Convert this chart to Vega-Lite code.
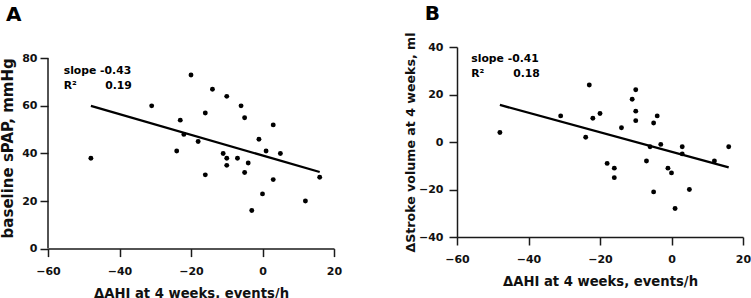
{
  "$schema": "https://vega.github.io/schema/vega-lite/v6.json",
  "padding": {"left": 0, "top": 4, "right": 0, "bottom": 0},
  "spacing": 62,
  "config": {
    "font": "DejaVu Sans",
    "view": {"stroke": null},
    "axis": {
      "grid": false,
      "domainColor": "#1a1a1a",
      "domainWidth": 1.5,
      "tickColor": "#1a1a1a",
      "tickWidth": 1.5,
      "tickSize": 8,
      "labelFont": "DejaVu Sans",
      "labelFontSize": 11,
      "labelFontWeight": "bold",
      "labelColor": "#111",
      "labelFlush": false,
      "labelOverlap": false,
      "titleFont": "DejaVu Sans",
      "titleFontWeight": "bold",
      "titleColor": "#111"
    },
    "axisX": {"labelPadding": 8.5, "titlePadding": 11, "titleFontSize": 13.2},
    "title": {"font": "DejaVu Sans", "fontSize": 20, "fontWeight": "bold", "color": "#000", "anchor": "start", "frame": "group"}
  },
  "datasets": {
    "pa": [
      {"x": -48, "y": 38}, {"x": -31, "y": 60}, {"x": -23, "y": 54}, {"x": -22, "y": 48},
      {"x": -24, "y": 41}, {"x": -20, "y": 73}, {"x": -18, "y": 45}, {"x": -16, "y": 57},
      {"x": -16, "y": 31}, {"x": -14, "y": 67}, {"x": -11, "y": 40}, {"x": -10, "y": 64},
      {"x": -10, "y": 38}, {"x": -10, "y": 35}, {"x": -7, "y": 38}, {"x": -6, "y": 60},
      {"x": -5, "y": 55}, {"x": -5, "y": 32}, {"x": -4, "y": 36}, {"x": -3, "y": 16},
      {"x": -1, "y": 46}, {"x": 0, "y": 23}, {"x": 1, "y": 41}, {"x": 3, "y": 52},
      {"x": 3, "y": 29}, {"x": 5, "y": 40}, {"x": 12, "y": 20}, {"x": 16, "y": 30}
    ],
    "pb": [
      {"x": -48, "y": 4}, {"x": -31, "y": 11}, {"x": -23, "y": 24}, {"x": -24, "y": 2},
      {"x": -22, "y": 10}, {"x": -20, "y": 12}, {"x": -18, "y": -9}, {"x": -16, "y": -11},
      {"x": -16, "y": -15}, {"x": -14, "y": 6}, {"x": -11, "y": 18}, {"x": -10, "y": 22},
      {"x": -10, "y": 13}, {"x": -10, "y": 9}, {"x": -7, "y": -8}, {"x": -6, "y": -2},
      {"x": -5, "y": 8}, {"x": -5, "y": -21}, {"x": -4, "y": 11}, {"x": -3, "y": -1},
      {"x": -1, "y": -11}, {"x": 0, "y": -13}, {"x": 1, "y": -28}, {"x": 3, "y": -2},
      {"x": 3, "y": -5}, {"x": 5, "y": -20}, {"x": 12, "y": -8}, {"x": 16, "y": -2}
    ],
    "la": [{"x": -48, "y": 60}, {"x": 16, "y": 32.2}],
    "lb": [{"x": -48, "y": 15.6}, {"x": 16, "y": -10.7}],
    "one": [{}]
  },
  "hconcat": [
    {
      "title": {"text": "A", "dx": -42, "offset": 22.5},
      "width": 286,
      "height": 201.6,
      "layer": [
        {
          "data": {"name": "one"},
          "mark": {"type": "rule", "color": "#1a1a1a", "strokeWidth": 1.5},
          "encoding": {"x": {"datum": -60}, "y": {"datum": 0}, "y2": {"datum": 80}}
        },
        {
          "data": {"name": "pa"},
          "mark": {"type": "circle", "size": 24, "color": "#000", "opacity": 1},
          "encoding": {
            "x": {"field": "x", "type": "quantitative", "scale": {"domain": [-60, 20], "nice": false, "zero": false},
                  "axis": {"values": [-60, -40, -20, 0, 20], "title": "ΔAHI at 4 weeks, events/h"}},
            "y": {"field": "y", "type": "quantitative", "scale": {"domain": [0, 84.75], "nice": false, "zero": false},
                  "axis": {"values": [0, 20, 40, 60, 80], "title": "baseline sPAP, mmHg", "domain": false,
                           "labelPadding": 3, "titlePadding": 6, "titleFontSize": 15}}
          }
        },
        {
          "data": {"name": "la"},
          "mark": {"type": "line", "color": "#000", "strokeWidth": 2.3},
          "encoding": {
            "x": {"field": "x", "type": "quantitative"},
            "y": {"field": "y", "type": "quantitative"}
          }
        },
        {
          "data": {"name": "one"},
          "mark": {"type": "text", "align": "left", "baseline": "alphabetic", "fontSize": 10.8, "fontWeight": "bold", "color": "#000"},
          "encoding": {"x": {"datum": -55.6}, "y": {"datum": 73.6}, "text": {"value": "slope -0.43"}}
        },
        {
          "data": {"name": "one"},
          "mark": {"type": "text", "align": "left", "baseline": "alphabetic", "fontSize": 10.8, "fontWeight": "bold", "color": "#000"},
          "encoding": {"x": {"datum": -55.6}, "y": {"datum": 67.2}, "text": {"value": "R²"}}
        },
        {
          "data": {"name": "one"},
          "mark": {"type": "text", "align": "left", "baseline": "alphabetic", "fontSize": 10.8, "fontWeight": "bold", "color": "#000"},
          "encoding": {"x": {"datum": -44}, "y": {"datum": 67.2}, "text": {"value": "0.19"}}
        }
      ]
    },
    {
      "title": {"text": "B", "dx": -32.3, "offset": 7.5},
      "width": 286,
      "height": 190,
      "layer": [
        {
          "data": {"name": "pb"},
          "mark": {"type": "circle", "size": 24, "color": "#000", "opacity": 1},
          "encoding": {
            "x": {"field": "x", "type": "quantitative", "scale": {"domain": [-60, 20], "nice": false, "zero": false},
                  "axis": {"values": [-60, -40, -20, 0, 20], "title": "ΔAHI at 4 weeks, events/h"}},
            "y": {"field": "y", "type": "quantitative", "scale": {"domain": [-40, 40], "nice": false, "zero": false},
                  "axis": {"values": [-40, -20, 0, 20, 40], "title": "ΔStroke volume at 4 weeks, ml",
                           "labelPadding": 6, "titlePadding": 1, "titleFontSize": 12.6}}
          }
        },
        {
          "data": {"name": "lb"},
          "mark": {"type": "line", "color": "#000", "strokeWidth": 2.3},
          "encoding": {
            "x": {"field": "x", "type": "quantitative"},
            "y": {"field": "y", "type": "quantitative"}
          }
        },
        {
          "data": {"name": "one"},
          "mark": {"type": "text", "align": "left", "baseline": "alphabetic", "fontSize": 10.8, "fontWeight": "bold", "color": "#000"},
          "encoding": {"x": {"datum": -56}, "y": {"datum": 33.6}, "text": {"value": "slope -0.41"}}
        },
        {
          "data": {"name": "one"},
          "mark": {"type": "text", "align": "left", "baseline": "alphabetic", "fontSize": 10.8, "fontWeight": "bold", "color": "#000"},
          "encoding": {"x": {"datum": -56}, "y": {"datum": 27.2}, "text": {"value": "R²"}}
        },
        {
          "data": {"name": "one"},
          "mark": {"type": "text", "align": "left", "baseline": "alphabetic", "fontSize": 10.8, "fontWeight": "bold", "color": "#000"},
          "encoding": {"x": {"datum": -44.3}, "y": {"datum": 27.2}, "text": {"value": "0.18"}}
        }
      ]
    }
  ]
}
